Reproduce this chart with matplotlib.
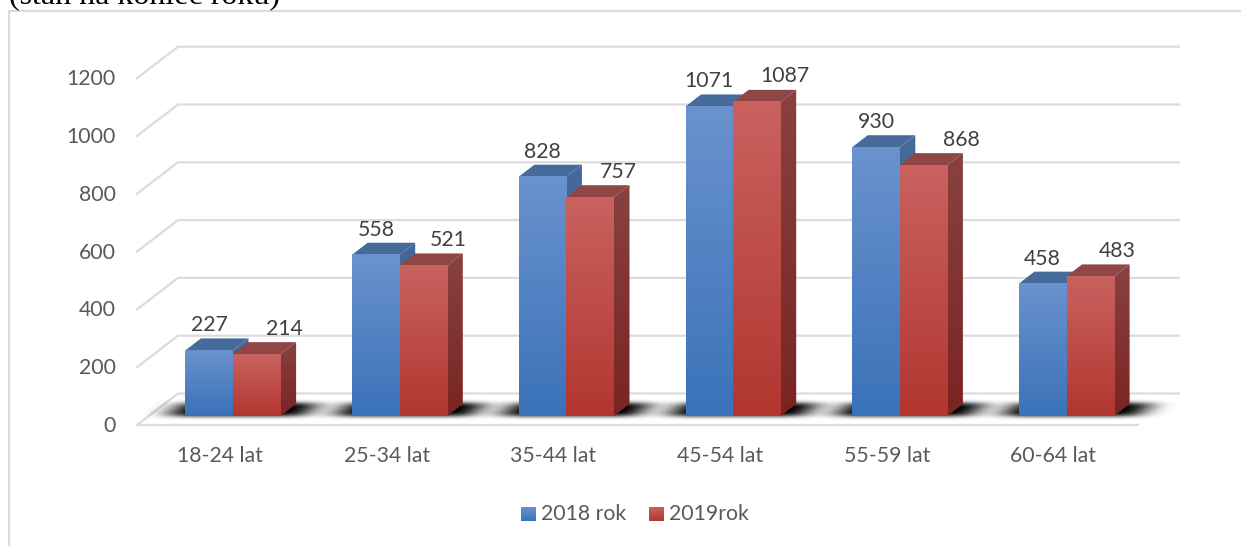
import matplotlib
matplotlib.use('Agg')
import matplotlib.pyplot as plt
from matplotlib.colors import to_rgb
from matplotlib.patches import Polygon
import numpy as np

categories = ['18-24 lat', '25-34 lat', '35-44 lat', '45-54 lat', '55-59 lat', '60-64 lat']
values_2018 = [227, 558, 828, 1071, 930, 458]
values_2019 = [214, 521, 757, 1087, 868, 483]
y_ticks = [0, 200, 400, 600, 800, 1000, 1200]
series_names = ['2018 rok', '2019rok']

# the red value labels sit off to the right by hand in the source
nudge_2019 = [28, 25, 28, 28, 38, 27]

W, H = 1241, 546
PX_X = 166.7          # pixels per category
PX_Y = 57.8 / 200     # pixels per unit
X0, Y0 = 233, 416     # pixel of category 0 centre and of bar base
FS = 15.3

plt.rcParams['font.family'] = ['Lato', 'DejaVu Sans']

# x,y in data units from pixel distances
def dx(px):
    return px / PX_X
def dy(px):
    return px / PX_Y
def to_x(px):
    return (px - X0) / PX_X
def to_y(py):
    return (Y0 - py) / PX_Y

fig = plt.figure(figsize=(W / 100, H / 100), dpi=100)
ax = fig.add_axes([0, 0, 1, 1])
ax.axis('off')

bar_w = dx(47.6)
depth_x, depth_y = dx(15.5), dy(12)

# outer frame of the chart
frame_col = '#dcdcdc'
ax.plot([to_x(9), to_x(9)], [to_y(H), to_y(10.5)], color=frame_col, lw=1.6, zorder=1)
ax.plot([to_x(9), to_x(W)], [to_y(10.5), to_y(10.5)], color=frame_col, lw=1.6, zorder=1)

# gridlines in fake 3d, front edge is 9 px below the bar base
grid_col = '#dcdcdc'
front_l, back_l, back_r, front_r = to_x(137), to_x(178), to_x(1179), to_x(1138)
for t in y_ticks:
    yf = t + dy(-9)
    yb = t + dy(22.5)
    ax.plot([front_l, back_l, back_r], [yf, yb, yb], color=grid_col, lw=1.6, zorder=1,
            solid_joinstyle='miter')
    ax.text(to_x(115.5), yf + dy(-1), str(t), ha='right', va='center', fontsize=FS, color='#595959')
ax.plot([front_l, front_r], [dy(-9), dy(-9)], color=grid_col, lw=1.6, zorder=1)


def box_blur(a, n, axis):
    k = np.ones(n) / n
    return np.apply_along_axis(lambda r: np.convolve(r, k, mode='same'), axis, a)


def shadow(i):
    # soft dark parallelogram on the floor behind every pair of bars
    nx, ny = 300, 50
    xs = np.linspace(-130, 170, nx)
    ys = np.linspace(-35, 15, ny)
    gx, gy = np.meshgrid(xs, ys)
    skew = gx + gy * 1.2
    mask = ((skew > -66) & (skew < 70) & (gy > -13) & (gy < 0)).astype(float)
    for _ in range(3):
        mask = box_blur(mask, 25, 1)
    for _ in range(2):
        mask = box_blur(mask, 5, 0)
    rgba = np.zeros((ny, nx, 4))
    rgba[..., 3] = np.clip(mask * 1.05, 0, 1)
    ax.imshow(rgba, extent=[i + dx(-130), i + dx(170), dy(-15), dy(35)], origin='upper',
              aspect='auto', zorder=2, interpolation='bilinear')


def gradient(top, bottom):
    g = np.linspace(0, 1, 128)[:, None, None]
    return (1 - g) * np.array(to_rgb(top)) + g * np.array(to_rgb(bottom))


def bar3d(left, value, front, side, top, z):
    right = left + bar_w
    # top face
    ax.add_patch(Polygon([(left, value), (right, value), (right + depth_x, value + depth_y),
                          (left + depth_x, value + depth_y)], closed=True, facecolor=top,
                         edgecolor='none', zorder=z))
    # right side
    im = ax.imshow(gradient(side[0], side[1]), extent=[right, right + depth_x, 0, value + depth_y],
                   aspect='auto', origin='upper', zorder=z)
    patch = Polygon([(right, 0), (right + depth_x, depth_y), (right + depth_x, value + depth_y),
                     (right, value)], closed=True, facecolor='none', edgecolor='none')
    ax.add_patch(patch)
    im.set_clip_path(patch)
    # front
    ax.imshow(gradient(front[0], front[1]), extent=[left, right, 0, value], aspect='auto',
              origin='upper', zorder=z + 0.1)


blue = (('#6a92ce', '#3a72b8'), ('#466a99', '#2f5483'), '#466a99')
red = (('#c9625f', '#b23630'), ('#884240', '#7a2422'), '#8f4644')

for i, cat in enumerate(categories):
    shadow(i)
    v18, v19 = values_2018[i], values_2019[i]
    bar3d(i - bar_w, v18, blue[0], blue[1], blue[2], 3)
    bar3d(i, v19, red[0], red[1], red[2], 4)
    ax.text(i - bar_w / 2, v18 + depth_y + dy(13), str(v18), ha='center', va='center',
            fontsize=FS, color='#404040', zorder=6)
    ax.text(i + bar_w / 2 + dx(nudge_2019[i]), v19 + depth_y + dy(13.5), str(v19), ha='center',
            va='center', fontsize=FS, color='#404040', zorder=6)
    ax.text(i + dx(-13), to_y(456), cat, ha='center', va='center', fontsize=FS, color='#595959')

# legend
legend_cols = [('#6a92ce', '#3a72b8'), ('#c9625f', '#b23630')]
for px, col, name in zip([521, 649], legend_cols, series_names):
    ax.imshow(gradient(col[0], col[1]), extent=[to_x(px), to_x(px + 15), to_y(521), to_y(507)],
              aspect='auto', origin='upper', zorder=3)
    ax.text(to_x(px + 20), to_y(513.5), name, ha='left', va='center', fontsize=FS, color='#595959')

ax.set_xlim(to_x(0), to_x(W))
ax.set_ylim(to_y(H), to_y(0))

# caption cut by the picture edge
ax.text(to_x(9), to_y(3), '(stan na koniec roku)', ha='left', va='baseline', fontsize=23,
        family=['Liberation Serif'], color='black', clip_on=False)

fig.savefig('out.png', dpi=100)
